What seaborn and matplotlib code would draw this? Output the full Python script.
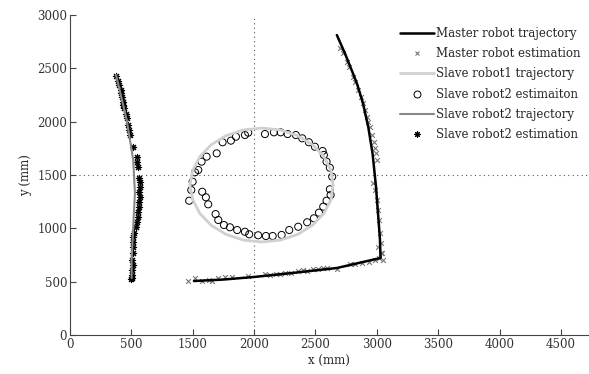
import numpy as np
import pandas as pd
import matplotlib
matplotlib.use("Agg")
import matplotlib.pyplot as plt
from matplotlib.lines import Line2D
import seaborn as sns

# master robot trajectory (black line)
master_x = [1510, 1750, 2000, 2300, 2674, 3030, 3025, 3012, 2992, 2965, 2930, 2886, 2840, 2804, 2740, 2674]
master_y = [506, 520, 544, 580, 628, 722, 900, 1100, 1400, 1700, 1950, 2175, 2350, 2456, 2640, 2812]

# master robot estimation (grey x)
master_est_x = [1463, 1518, 1572, 1634, 1654, 1703, 1762, 1817, 1952, 2088, 2129, 2177, 2210, 2251, 2297,
                2359, 2400, 2432, 2481, 2522, 2563, 2596, 2672, 2780, 2821, 2875, 2937, 2984, 3019, 3030, 3011,
                2699, 2721, 2753, 2774, 2807, 2821, 2848, 2867, 2888, 2902, 2916, 2929, 2943, 2957, 2975, 2984,
                2992, 2997, 2970, 2984, 3002, 3011, 3019, 3024, 3030, 3038, 3046]
master_est_y = [509, 531, 506, 516, 506, 531, 541, 541, 553, 569, 563, 572, 569, 578, 584,
                603, 609, 603, 616, 616, 625, 631, 619, 663, 666, 678, 684, 703, 719, 766, 822,
                2688, 2641, 2562, 2516, 2422, 2375, 2297, 2234, 2172, 2109, 2047, 2000, 1953, 1875, 1812, 1750,
                1703, 1641, 1422, 1359, 1266, 1172, 1078, 953, 859, 766, 703]

# slave robot1 trajectory (light grey ellipse)
slave1_x = [2643, 2626, 2568, 2475, 2356, 2215, 2063, 1911, 1770, 1651, 1558, 1500, 1477,
            1500, 1558, 1651, 1770, 1911, 2063, 2215, 2356, 2475, 2568, 2626, 2643]
slave1_y = [1406, 1544, 1673, 1784, 1868, 1922, 1940, 1922, 1868, 1784, 1673, 1544, 1406,
            1268, 1139, 1028, 944, 890, 872, 890, 944, 1028, 1139, 1268, 1406]

# slave robot2 estimaiton (open circles)
circ_x = [1471, 1488, 1499, 1518, 1545, 1572, 1613, 1695, 1743, 1811, 1852, 1925, 1952, 2088, 2161,
          2216, 2273, 2340, 2392, 2446, 2495, 2558, 2568, 2590, 2617, 2636, 2617, 2623, 2590, 2563,
          2528, 2487, 2432, 2359, 2286, 2224, 2151, 2096, 2033, 1960, 1925, 1862, 1803, 1754, 1708,
          1686, 1626, 1607, 1577]
circ_y = [1259, 1359, 1437, 1525, 1547, 1625, 1672, 1703, 1807, 1822, 1859, 1875, 1897, 1884, 1900,
          1900, 1884, 1875, 1844, 1807, 1765, 1725, 1688, 1625, 1568, 1484, 1366, 1313, 1259, 1203,
          1147, 1094, 1057, 1015, 984, 938, 928, 928, 935, 944, 968, 984, 1010, 1031, 1078,
          1134, 1225, 1291, 1343]

# slave robot2 trajectory (grey line)
slave2_x = [875, 962, 1015, 1029, 1015, 1002, 1002]
slave2_y = [2438, 2016, 1641, 1331, 1013, 703, 534]

# slave robot2 estimation (asterisks)
star_x = [875, 893, 901, 913, 915, 926, 929, 934, 940, 956, 962, 975, 983, 989, 1011, 1043, 1048, 1051,
          1064, 1070, 1070, 1064, 1070, 1064, 1064, 1056, 1056, 1048, 1037, 1024, 1015, 1015, 1015, 1011,
          1007, 1011, 1002, 1002, 1005, 997]
star_y = [2428, 2384, 2344, 2297, 2266, 2228, 2187, 2156, 2131, 2069, 2032, 1969, 1922, 1875, 1760, 1672,
          1625, 1572, 1469, 1437, 1390, 1343, 1297, 1250, 1203, 1156, 1109, 1062, 1015, 953, 922, 875, 828,
          766, 703, 656, 609, 562, 532, 522]

# tick labels as printed on the original (no "1000")
xtick_pos = [500, 1000, 1500, 2000, 2500, 3000, 3500, 4000, 4500]
xtick_lab = ["0", "500", "1500", "2000", "2500", "3000", "3500", "4000", "4500"]
ytick_pos = [0, 500, 1000, 1500, 2000, 2500, 3000]

sns.set_style("white")
plt.rcParams["font.family"] = ["DejaVu Serif"]
plt.rcParams["font.size"] = 8.5

fig = plt.figure(figsize=(5.89, 3.74), dpi=100)
ax = fig.add_axes([70 / 589, 39 / 374, 518 / 589, 320 / 374])

ax.axvline(2000, color="#555555", linestyle=(0, (1, 3)), linewidth=0.8, zorder=0)
ax.axhline(1500, color="#555555", linestyle=(0, (1, 3)), linewidth=0.8, zorder=0)

sns.lineplot(x=slave1_x, y=slave1_y, sort=False, estimator=None, color="#d0d0d0", linewidth=2.0, ax=ax)
sns.lineplot(x=slave2_x, y=slave2_y, sort=False, estimator=None, color="#888888", linewidth=1.5, ax=ax)
sns.lineplot(x=master_x, y=master_y, sort=False, estimator=None, color="black", linewidth=1.8, ax=ax)

sns.scatterplot(x=master_est_x, y=master_est_y, marker="x", color="#777777", s=12, linewidth=0.8, ax=ax)
sns.scatterplot(x=circ_x, y=circ_y, marker="o", facecolor="none", edgecolor="black", s=26, linewidth=0.7, ax=ax)
sns.scatterplot(x=star_x, y=star_y, marker=(8, 2, 0), color="black", s=20, linewidth=0.8, ax=ax)

ax.set_xlim(500, 4720)
ax.set_ylim(0, 3000)
ax.set_xticks(xtick_pos)
ax.set_xticklabels(xtick_lab)
ax.set_yticks(ytick_pos)
ax.set_xlabel("x (mm)", labelpad=3)
ax.set_ylabel("y (mm)", labelpad=4)
ax.tick_params(direction="in", length=4, width=0.8, color="#444444", labelcolor="#333333", pad=2,
               bottom=True, left=True)
for s in ["top", "right"]:
    ax.spines[s].set_visible(False)
for s in ["left", "bottom"]:
    ax.spines[s].set_color("#444444")
    ax.spines[s].set_linewidth(0.8)

handles = [
    Line2D([], [], color="black", linewidth=1.8),
    Line2D([], [], color="#777777", marker="x", linestyle="none", markersize=3.5, markeredgewidth=0.8),
    Line2D([], [], color="#d0d0d0", linewidth=2.0),
    Line2D([], [], color="black", marker="o", markerfacecolor="none", linestyle="none", markersize=5,
           markeredgewidth=0.7),
    Line2D([], [], color="#888888", linewidth=1.5),
    Line2D([], [], color="black", marker=(8, 2, 0), linestyle="none", markersize=4.5, markeredgewidth=0.8),
]
labels = ["Master robot trajectory", "Master robot estimation", "Slave robot1 trajectory",
          "Slave robot2 estimaiton", "Slave robot2 trajectory", "Slave robot2 estimation"]
ax.legend(handles, labels, loc="upper left", bbox_to_anchor=(318 / 518, 1.0), frameon=False,
          handlelength=2.9, handletextpad=0.15, labelspacing=0.62, borderaxespad=0.6)

fig.savefig("out.png", dpi=100)
